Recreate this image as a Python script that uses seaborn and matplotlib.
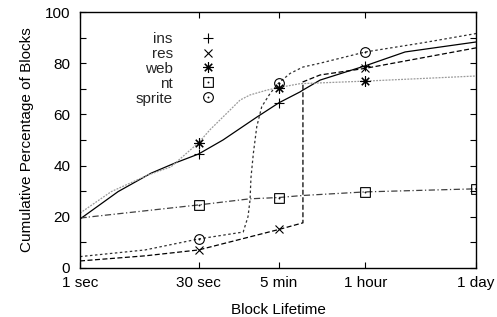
import matplotlib
matplotlib.use("Agg")
import matplotlib.pyplot as plt
from matplotlib.path import Path
from matplotlib.lines import Line2D
from matplotlib.ticker import NullLocator
import seaborn as sns

sns.set_theme(style="ticks")
plt.rcParams['font.family'] = ['Liberation Sans', 'DejaVu Sans']

# block lifetime (seconds) vs cumulative percentage of blocks
ins_t = [1, 2.98, 7.67, 15.3, 30, 60.6, 161, 300, 553, 600, 981, 3600, 11260, 86400]
ins_pct = [19.1, 29.8, 37.0, 41.0, 44.5, 50.0, 59.0, 64.5, 68.8, 69.5, 73.4, 79.0, 84.4, 88.3]

res_t = [1, 6.46, 30, 300, 600, 600, 981, 3600, 86400]
res_pct = [2.7, 4.7, 7.0, 15.0, 17.6, 72.7, 75.4, 78.0, 86.0]

web_t = [1, 2.45, 7.04, 13.6, 30, 41.7, 74.1, 98.8, 131.6, 214, 300, 553, 3600, 86400]
web_pct = [21.4, 29.8, 36.3, 39.5, 48.9, 54.0, 61.7, 65.6, 67.6, 69.5, 70.5, 72.0, 73.0, 75.0]

nt_t = [1, 30, 131.6, 300, 600, 3600, 86400]
nt_pct = [19.5, 24.6, 27.0, 27.5, 28.3, 29.7, 30.9]

sprite_t = [1, 6.46, 30, 108, 124, 131.6, 135, 144.7, 159.5, 184, 234, 300, 415, 600, 981,
            3600, 18880, 86400]
sprite_pct = [4.4, 7.0, 11.3, 14.0, 20.0, 26.6, 35.2, 44.8, 55.2, 63.0, 68.2, 72.3, 76.0,
              78.5, 80.0, 84.4, 88.0, 91.6]

# lifetimes where a point symbol is drawn
marks = [30, 300, 3600]
nt_marks = [30, 300, 3600, 86400]

tick_secs = [1, 30, 300, 3600, 86400]
tick_names = ['1 sec', '30 sec', '5 min', '1 hour', '1 day']

# gnuplot-like point symbols: square / circle with a centre dot
sq = Path.unit_rectangle()
sq = Path(sq.vertices - 0.5, sq.codes)
box_dot = Path.make_compound_path(sq, Path.circle((0, 0), 0.04))
circ_dot = Path.make_compound_path(Path.unit_circle(), Path.circle((0, 0), 0.08))

series = [
    ('ins', ins_t, ins_pct, marks, dict(color='black', linestyle='-', marker='+', ms=7)),
    ('res', res_t, res_pct, marks, dict(color='black', linestyle=(0, (4, 2)), marker='x', ms=6)),
    ('web', web_t, web_pct, marks, dict(color='#9a9a9a', linestyle=(0, (1.5, 1)), marker=(8, 2, 0), ms=7.5)),
    ('nt', nt_t, nt_pct, nt_marks, dict(color='#404040', linestyle=(0, (5, 2, 1, 2)), marker=box_dot, ms=7)),
    ('sprite', sprite_t, sprite_pct, marks, dict(color='#303030', linestyle=(0, (2, 2)), marker=circ_dot, ms=7)),
]

fig, ax = plt.subplots(figsize=(4.97, 3.17), dpi=100)
fig.subplots_adjust(left=0.161, right=0.958, bottom=0.155, top=0.962)
ax.set_xscale('log')

handles = []
for name, t, pct, mk, style in series:
    sns.lineplot(x=t, y=pct, ax=ax, estimator=None, sort=False,
                 markevery=[t.index(m) for m in mk], markeredgecolor='black',
                 markerfacecolor='none', markeredgewidth=0.8, linewidth=0.9, **style)
    handles.append(Line2D([], [], linestyle='none', marker=style['marker'], ms=style['ms'],
                          markeredgecolor='black', markerfacecolor='none', markeredgewidth=0.8))

ax.set_xlim(1, 86400)
ax.set_ylim(0, 100)
ax.set_xticks(tick_secs)
ax.set_xticklabels(tick_names)
ax.xaxis.set_minor_locator(NullLocator())
ax.set_yticks(range(0, 101, 10))
ax.set_yticklabels([str(v) if v % 20 == 0 else '' for v in range(0, 101, 10)])
ax.tick_params(direction='in', top=True, right=True, length=4, width=0.8,
               colors='black', labelsize=11)
ax.tick_params(axis='x', pad=6)
ax.tick_params(axis='y', pad=7)
for s in ax.spines.values():
    s.set_color('black')
    s.set_linewidth(1)

ax.set_xlabel('Block Lifetime', fontsize=11, color='black', labelpad=9)
ax.set_ylabel('Cumulative Percentage of Blocks', fontsize=11, color='black', labelpad=8)

ax.legend(handles, [s[0] for s in series], loc='upper right', bbox_to_anchor=(0.346, 0.922),
          frameon=False, markerfirst=False, handlelength=1.2, handletextpad=1.7,
          labelspacing=0.06, borderpad=0, borderaxespad=0, fontsize=11)

plt.savefig('out.png', dpi=100)
plt.close()
